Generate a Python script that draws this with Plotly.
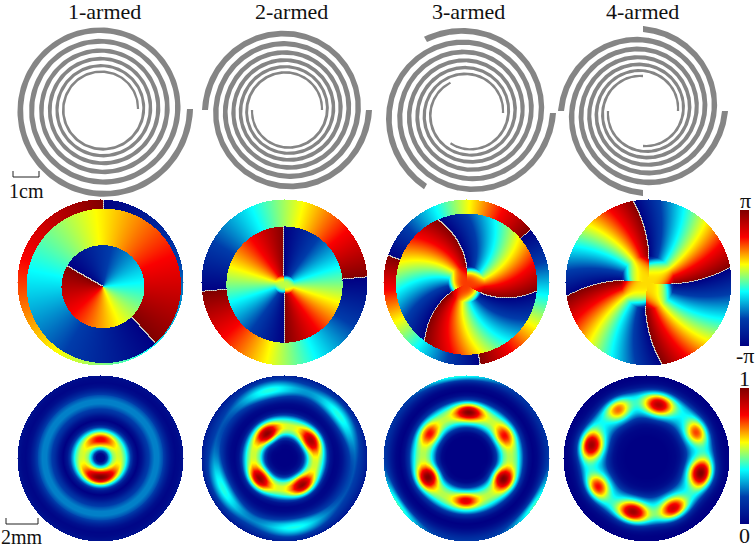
import numpy as np
import plotly.graph_objects as go

W, H = 755, 547
TITLES = ["1-armed", "2-armed", "3-armed", "4-armed"]
TITLE_X = [104, 291, 468, 642]
ARMS = [1, 2, 3, 4]

# spiral geometry (pixels)
SPIRAL_CX = [102, 287, 468, 643]
SPIRAL_CY = [109, 110, 113, 111]
SPIRAL_R_IN = [36, 35, 35, 35]
SPIRAL_R_OUT = [88, 82, 85, 82]
LINE_TOTAL = 6          # lines crossed along a ray
WIDTH_IN, WIDTH_OUT = 2.3, 6.0

PANEL_CX_PHASE = [100.5, 284, 466.5, 648]
PANEL_CX_INT = [100.5, 284, 466.5, 646]
PANEL_CY_PHASE = 282
PANEL_CY_INT = 458
PANEL_R = 83

# phase map: rings, innermost first.
# radius, centre dx, centre dy, phase offset (deg), twist (deg per unit radius)
RINGS_1 = [(0.50, 0.03, 0.05, -120, 0), (0.93, 0.04, 0.04, 42, 0), (9, 0.04, 0.04, 180, 0)]
RINGS_2 = [(0.70, 0.0, 0.025, -180, 0), (9, 0.0, 0.025, 10, 0)]
RINGS_3 = [(0.85, 0.0, 0.02, 150, 40), (9, 0.0, 0.02, 30, 0)]
RINGS_4 = [(9, -0.01, 0.0, 140, 20)]
PHASE_RINGS = [RINGS_1, RINGS_2, RINGS_3, RINGS_4]
HUB_PHASE = [0.0, 0.3, 1.6, 0.8]
HUB_RADIUS = [0.0, 0.12, 0.22, 0.32]

# intensity maps: radial profile and bright lobes
R_NODES = [0, .05, .1, .15, .2, .25, .3, .35, .4, .45, .5, .55, .6, .65, .7, .75, .8, .85, .9, .95, 1]
BASE_1 = [0, .02, .3, .5, .55, .53, .43, .25, .07, 0, .06, .15, .22, .27, .27, .22, .12, .05, .02, .03, .06]
BASE_2 = [0, 0, 0, .01, .06, .25, .46, .55, .55, .44, .25, .06, .01, .02, .06, .13, .2, .22, .18, .13, .08]
BASE_3 = [0, 0, 0, 0, 0, 0, .03, .15, .33, .47, .53, .53, .47, .33, .15, .04, 0, .02, .07, .13, .18]
BASE_4 = [0, 0, 0, 0, 0, 0, .01, .02, .05, .12, .22, .3, .34, .36, .36, .32, .2, .07, .02, 0, 0]
BASES = [BASE_1, BASE_2, BASE_3, BASE_4]
INT_CENTER = [(0, -.01), (0, -.01), (0, -.01), (0, -.01)]

# lobes: angle clockwise from top (deg), radius, peak, radial width, angular width (deg)
LOBES_1 = [(0, .22, .82, .06, 32), (180, .24, 1.0, .06, 36)]
LOBES_2 = [(-36, .35, .98, .08, 16), (57, .38, .93, .08, 16), (230, .40, .97, .08, 15), (147, .40, .97, .08, 15),
           (-13, .82, .42, .08, 18), (52, .82, .42, .08, 18), (172, .85, .42, .08, 18), (-117, .82, .42, .08, 18)]
LOBES_3 = [(3, .55, 1.0, .07, 12), (-57, .53, .8, .08, 10), (60, .53, .8, .08, 10),
           (243, .52, 1.0, .09, 10), (120, .51, 1.0, .09, 10), (181, .52, .85, .06, 11),
           (-5, 1.0, .45, .05, 20), (125, 1.0, .45, .05, 15), (235, 1.0, .45, .05, 15)]
LOBES_4 = [(13, .65, .92, .09, 11), (-30.5, .67, .72, .09, 9), (63, .67, .75, .09, 9), (-77, .68, .95, .1, 10),
           (106, .68, 1.0, .1, 10), (-121, .68, .8, .09, 9), (194, .67, .95, .09, 11), (152, .69, .87, .09, 10)]
LOBES = [LOBES_1, LOBES_2, LOBES_3, LOBES_4]

BAR_X = 740
BAR_T = 9
PHASE_BAR = (210, 346)
INT_BAR = (388, 524)
GREY = "#858585"
SERIF = "Liberation Serif"

N = 2 * PANEL_R + 1
grid = np.linspace(-1, 1, N)
X, Y = np.meshgrid(grid, grid)
RR = np.hypot(X, Y)


def wrap(a):
    return (a + np.pi) % (2 * np.pi) - np.pi


def phase_field(i):
    n = ARMS[i]
    z = np.zeros_like(X)
    done = np.zeros_like(X, dtype=bool)
    for rad, dx, dy, off, tw in PHASE_RINGS[i]:
        xx, yy = X - dx, Y - dy
        r = np.hypot(xx, yy)
        m = (r <= rad) & ~done
        a = np.arctan2(xx, -yy) + np.radians(tw) * r
        w = wrap(n * a + np.radians(off))
        if HUB_RADIUS[i] > 0:
            t = np.clip(r / HUB_RADIUS[i], 0, 1) ** 3
            w = HUB_PHASE[i] * (1 - t) + w * t
        z[m] = w[m]
        done |= m
    edge = np.zeros_like(z, dtype=bool)
    edge[:, :-1] |= np.abs(np.diff(z, axis=1)) > 4.2
    edge[:-1, :] |= np.abs(np.diff(z, axis=0)) > 4.2
    outside = RR > 1
    z[outside] = np.nan
    edge[outside] = False
    yy_i, xx_i = np.indices(z.shape)
    line = np.where(edge, ((xx_i + yy_i) % 2).astype(float), np.nan)
    return z, line


def intensity_field(i):
    cx, cy = INT_CENTER[i]
    xx, yy = X - cx, Y - cy
    r = np.hypot(xx, yy)
    a = np.degrees(np.arctan2(xx, -yy))
    z = np.interp(r, R_NODES, BASES[i])
    for ang, rad, peak, wr, wa in LOBES[i]:
        d = (a - ang + 180) % 360 - 180
        amp = peak - np.interp(rad, R_NODES, BASES[i])
        z = z + amp * np.exp(-((r - rad) / wr) ** 2 / 2 - (d / wa) ** 2 / 2)
    z = np.clip(z, 0, 1)
    z[RR > 1] = np.nan
    return z


fig = go.Figure()
layout = dict(width=W, height=H, margin=dict(l=0, r=0, t=0, b=0), autosize=False,
              paper_bgcolor="white", plot_bgcolor="rgba(0,0,0,0)", showlegend=False,
              annotations=[], shapes=[])
axis_no = [0]


def add_axes(cx, cy, half):
    axis_no[0] += 1
    k = axis_no[0]
    sx = "" if k == 1 else str(k)
    layout["xaxis" + sx] = dict(domain=[(cx - half) / W, (cx + half) / W], range=[-1, 1], visible=False,
                                anchor="y" + sx, fixedrange=True)
    layout["yaxis" + sx] = dict(domain=[1 - (cy + half) / H, 1 - (cy - half) / H], range=[1, -1], visible=False,
                                anchor="x" + sx, fixedrange=True)
    return "x" + sx, "y" + sx


def bar(top_bottom):
    top, bottom = top_bottom
    return dict(x=BAR_X / W, xanchor="left", thickness=BAR_T, thicknessmode="pixels",
                y=1 - bottom / H, yanchor="bottom", len=(bottom - top) / H, lenmode="fraction",
                showticklabels=False, ticks="", outlinewidth=0, xpad=0, ypad=0)


# spirals
for i in range(4):
    half = 100
    xa, ya = add_axes(SPIRAL_CX[i], SPIRAL_CY[i], half)
    n = ARMS[i]
    turns = LINE_TOTAL / n
    t = np.linspace(0, 1, 900)
    r = SPIRAL_R_IN[i] * (SPIRAL_R_OUT[i] / SPIRAL_R_IN[i]) ** t
    w = WIDTH_IN + (WIDTH_OUT - WIDTH_IN) * t
    for k in range(n):
        th = 2 * np.pi * (k / n + t * turns)
        ro = (r + w / 2) / half
        ri = (r - w / 2) / half
        px = np.r_[ro * np.cos(th), (ri * np.cos(th))[::-1]]
        py = np.r_[-ro * np.sin(th), (-ri * np.sin(th))[::-1]]
        fig.add_trace(go.Scatter(x=px, y=py, xaxis=xa, yaxis=ya, mode="lines", fill="toself",
                                 fillcolor=GREY, line=dict(width=0, color=GREY), hoverinfo="skip"))

# phase maps
for i in range(4):
    xa, ya = add_axes(PANEL_CX_PHASE[i], PANEL_CY_PHASE, PANEL_R)
    z, line = phase_field(i)
    fig.add_trace(go.Heatmap(x=grid, y=grid, z=z, xaxis=xa, yaxis=ya, colorscale="Jet", zmin=-np.pi, zmax=np.pi,
                             showscale=i == 0, colorbar=bar(PHASE_BAR), hoverinfo="skip"))
    fig.add_trace(go.Heatmap(x=grid, y=grid, z=line, xaxis=xa, yaxis=ya, zmin=0, zmax=1, showscale=False,
                             colorscale=[[0, "#a8a8a8"], [1, "#e8e0d0"]], hoverinfo="skip"))

# intensity maps
for i in range(4):
    xa, ya = add_axes(PANEL_CX_INT[i], PANEL_CY_INT, PANEL_R)
    fig.add_trace(go.Heatmap(x=grid, y=grid, z=intensity_field(i), xaxis=xa, yaxis=ya, colorscale="Jet",
                             zmin=0, zmax=1, showscale=i == 0, colorbar=bar(INT_BAR), hoverinfo="skip"))


def text(x, y, s, size):
    layout["annotations"].append(dict(x=x / W, y=1 - y / H, xref="paper", yref="paper", text=s, showarrow=False,
                                      xanchor="center", yanchor="middle",
                                      font=dict(family=SERIF, size=size, color="#111111")))


def bracket(x0, x1, y_top, y_bot):
    for a, b, c, d in [(x0, y_bot, x1, y_bot), (x0, y_top, x0, y_bot), (x1, y_top, x1, y_bot)]:
        layout["shapes"].append(dict(type="line", xref="paper", yref="paper", x0=a / W, y0=1 - b / H,
                                     x1=c / W, y1=1 - d / H, line=dict(color="#222222", width=1)))


for name, x in zip(TITLES, TITLE_X):
    text(x, 12, name, 22)
text(26, 191, "1cm", 20)
bracket(13, 39, 171, 177)
text(22, 537, "2mm", 20)
bracket(6, 38, 518, 524)
text(745, 200, "π", 22)
text(745, 355, "-π", 22)
text(744, 378, "1", 22)
text(744, 535, "0", 22)

fig.update_layout(**layout)
fig.write_html("out.html", config={"displayModeBar": False},
               post_script="document.body.style.margin='0';document.body.style.overflow='hidden';")
